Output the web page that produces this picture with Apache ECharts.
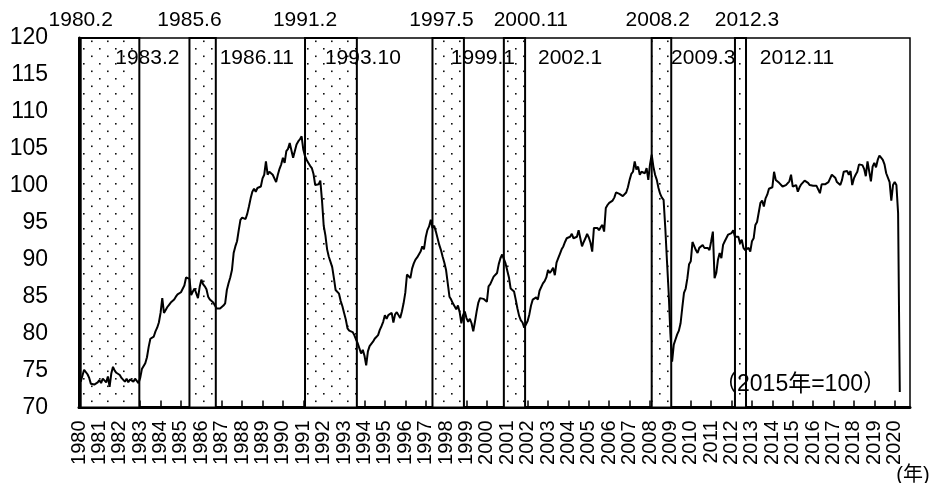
<!DOCTYPE html>
<html><head><meta charset="utf-8">
<script src="https://cdn.jsdelivr.net/npm/echarts@6/dist/echarts.min.js"></script>
<style>html,body{margin:0;padding:0;background:#fff}#c{width:934px;height:483px}</style>
</head><body><div id="c"></div>
<script>
// ---- data (monthly index, 2015=100, from 1980.1) ----
const startYear = 1980;
const ipi = [
 74.2,73.5,74.3,75.1,75.0,74.5,74.0,73.2,73.0,73.1,73.3,73.4, // 1980
 73.7,73.3,73.9,73.8,73.4,74.2,72.8,74.6,75.5,75.0,74.7,74.5, // 1981
 74.4,74.0,73.8,73.5,73.9,73.4,73.8,73.6,73.5,73.9,73.7,73.3, // 1982
 74.0,75.2,75.4,76.0,76.8,78.2,79.3,79.5,79.6,80.3,80.8,81.5, // 1983
 82.8,84.8,82.8,83.2,83.6,83.9,84.2,84.4,84.6,85.0,85.3,85.5, // 1984
 85.6,85.8,86.5,87.6,87.5,87.4,85.2,85.7,86.1,86.2,84.8,86.3, // 1985
 87.3,86.7,86.4,86.0,85.0,84.6,84.5,84.2,83.8,83.4,83.2,83.4, // 1986
 83.6,83.8,84.1,85.9,86.8,87.6,88.6,90.9,91.8,92.5,94.0,95.4, // 1987
 95.7,95.9,95.5,96.2,97.2,98.3,99.2,99.6,99.2,99.7,99.9,99.9, // 1988
 101.0,101.5,103.3,101.5,101.9,101.7,101.5,101.3,100.5,101.5,102.3,102.9, // 1989
 103.8,103.1,104.7,105.0,105.8,105.6,103.8,103.7,105.6,106.0,106.3,106.7, // 1990
 104.9,104.0,103.5,103.1,102.7,102.4,101.6,100.1,99.9,100.2,100.7,98.0, // 1991
 94.6,93.3,91.4,90.4,89.7,89.0,87.5,85.9,86.1,85.4,84.4,83.7, // 1992
 82.8,81.9,80.7,80.4,80.3,80.2,79.8,79.2,78.7,78.0,77.3,77.8, // 1993
 77.0,75.7,77.6,78.3,78.6,78.9,79.3,79.5,79.8,80.5,81.0,81.6, // 1994
 82.5,82.0,82.5,82.7,82.8,81.5,82.6,82.9,82.5,82.1,83.0,84.1, // 1995
 85.5,88.0,88.2,87.5,88.8,89.5,90.0,90.3,90.5,91.1,91.8,91.4, // 1996
 93.0,94.0,94.5,95.4,94.3,94.6,93.8,92.9,92.0,91.3,90.4,89.6, // 1997
 88.6,86.8,85.0,84.6,84.1,83.7,83.3,83.8,82.9,81.4,82.5,83.0, // 1998
 82.1,81.6,82.0,81.4,80.3,81.6,83.0,84.2,84.8,84.8,84.7,84.5, // 1999
 84.3,86.4,86.7,86.9,87.7,87.6,88.2,89.4,90.2,90.7,90.1,89.5, // 2000
 89.3,87.6,86.1,85.9,85.7,84.6,83.4,82.4,81.8,81.5,80.8,81.0, // 2001
 81.7,82.6,83.8,84.6,84.8,84.9,84.6,85.8,85.7,86.8,87.1,87.6, // 2002
 88.6,88.2,88.5,88.9,87.9,89.6,90.2,90.8,91.4,91.8,92.4,92.9, // 2003
 92.7,93.1,93.5,92.9,93.0,93.1,94.0,92.9,91.8,92.4,92.9,93.5, // 2004
 93.0,92.3,91.1,94.3,94.5,94.3,94.0,94.4,94.7,93.8,97.0,97.4, // 2005
 97.7,97.7,98.0,98.4,99.1,99.0,98.9,98.8,98.6,98.8,99.1,99.8, // 2006
 100.8,101.6,101.9,103.3,102.2,102.6,101.5,101.9,101.8,101.7,102.4,100.8, // 2007
 102.9,104.2,102.6,101.5,100.8,99.7,98.9,98.4,98.1,94.3,89.8,85.5, // 2008
 80.0,76.2,78.5,79.2,79.9,80.4,81.4,83.5,85.5,86.1,87.5,89.4, // 2009
 89.8,92.4,92.6,91.3,90.9,91.6,91.8,92.0,91.6,91.8,91.6,91.3, // 2010
 92.5,93.8,87.5,88.2,90.0,90.9,90.2,92.0,92.5,92.3,93.4,93.5, // 2011
 93.6,94.0,93.1,92.9,93.1,92.2,92.7,91.6,91.3,91.5,91.6,91.1, // 2012
 92.5,92.9,94.7,95.1,95.3,97.7,98.0,97.2,98.3,98.8,99.6,99.5, // 2013
 99.8,101.9,100.8,100.6,100.4,100.2,99.9,99.7,100.1,99.9,100.6,101.5, // 2014
 99.9,100.1,100.1,99.2,99.8,100.2,100.1,100.7,100.5,100.4,100.1,100.2, // 2015
 100.0,99.8,100.0,100.1,99.0,100.2,100.1,100.2,100.4,100.5,100.3,101.5, // 2016
 101.3,101.1,100.5,100.3,100.1,100.8,101.9,101.9,102.0,101.5,102.0,100.1, // 2017
 101.0,101.5,101.9,102.9,102.9,102.8,102.3,101.3,103.3,103.3,100.6,102.6, // 2018
 103.1,102.5,103.5,104.1,103.8,103.5,102.9,101.7,101.9,100.5,98.0,100.1, // 2019
 100.5,100.1,96.3,72.1 // 2020
];
// business-cycle reference dates (peak -> trough), "year.month"
const peaks   = ['1980.2','1985.6','1991.2','1997.5','2000.11','2008.2','2012.3'];
const troughs = ['1983.2','1986.11','1993.10','1999.1','2002.1','2009.3','2012.11'];
const yMin = 70, yMax = 120, yStep = 5;
const xMin = 1980, xMax = 2020.75;
const baseNote = '（2015年=100）';
const unitNote = '(年)';

// ---- layout / style (not data) ----
const peakLabelDx   = [0, 0, 0, 9, 27, 6, 12];
const troughLabelDx = [8, 41, 6, 19, 45, 32, 51];
const TROUGH_SHIFT = -1.5 / 12;   // drawn position of trough line
const FONT = '"Liberation Sans","Noto Sans CJK JP",sans-serif';

const toT = s => { const [y, m] = s.split('.').map(Number); return y + (m - 1) / 12; };
const points = ipi.map((v, k) => [startYear + k / 12, v]);

function dotPattern() {
  const c = document.createElement('canvas');
  c.width = 16; c.height = 15;
  const g = c.getContext('2d');
  g.fillStyle = '#fff'; g.fillRect(0, 0, 16, 15);
  g.fillStyle = '#111';
  g.fillRect(3, 3, 1.6, 1.6);
  g.fillRect(11, 10.5, 1.6, 1.6);
  return c;
}
const pat = { image: dotPattern(), repeat: 'repeat' };

const bands = peaks.map((p, i) => [
  { xAxis: toT(p) },
  { xAxis: toT(troughs[i]) + TROUGH_SHIFT }
]);

const chart = echarts.init(document.getElementById('c'), null, { renderer: 'canvas' });
chart.setOption({
  animation: false,
  backgroundColor: '#fff',
  grid: { left: 79, right: 24, top: 38, bottom: 75.5, show: true, borderColor: '#000', borderWidth: 1.5, backgroundColor: 'transparent' },
  xAxis: {
    type: 'value', min: xMin, max: xMax, interval: 1,
    axisLine: { show: true, lineStyle: { color: '#000', width: 3 } },
    axisTick: { show: true, inside: true, length: 7, lineStyle: { color: '#000', width: 1.5 } },
    axisLabel: { rotate: 90, fontSize: 20, color: '#000', fontFamily: FONT, margin: 13,
      showMaxLabel: false, formatter: v => Number.isInteger(v) ? String(v) : '' },
    splitLine: { show: false }
  },
  yAxis: {
    type: 'value', min: yMin, max: yMax, interval: yStep,
    axisLine: { show: true, lineStyle: { color: '#000', width: 3 } },
    axisTick: { show: true, inside: true, length: 6, lineStyle: { color: '#000', width: 1.5 } },
    axisLabel: { fontSize: 23, color: '#000', fontFamily: FONT, margin: 31 },
    splitLine: { show: false }
  },
  series: [{
    type: 'line', data: points, showSymbol: false, symbol: 'none',
    lineStyle: { color: '#000', width: 2 }, z: 5,
    markArea: {
      silent: true,
      itemStyle: { color: pat, borderColor: '#000', borderWidth: 2 },
      data: bands
    }
  }]
});

const gfx = [];
const peakY = 20, troughY = 58;
const txt = (text, x, y, size) => ({ type: 'text', x, y, z: 100,
  style: { text, font: size + 'px ' + FONT, fill: '#000', align: 'center', verticalAlign: 'middle', textAlign: 'center', textVerticalAlign: 'middle' } });
peaks.forEach((p, i) => {
  gfx.push(txt(p, chart.convertToPixel({ xAxisIndex: 0 }, toT(p)) + peakLabelDx[i], peakY, 21));
});
troughs.forEach((p, i) => {
  gfx.push(txt(p, chart.convertToPixel({ xAxisIndex: 0 }, toT(p) + TROUGH_SHIFT) + troughLabelDx[i], troughY, 21));
});
gfx.push(txt(baseNote, 800, 385, 23));
gfx.push(txt(unitNote, 913, 475, 20));
chart.setOption({ graphic: gfx });
</script></body></html>
